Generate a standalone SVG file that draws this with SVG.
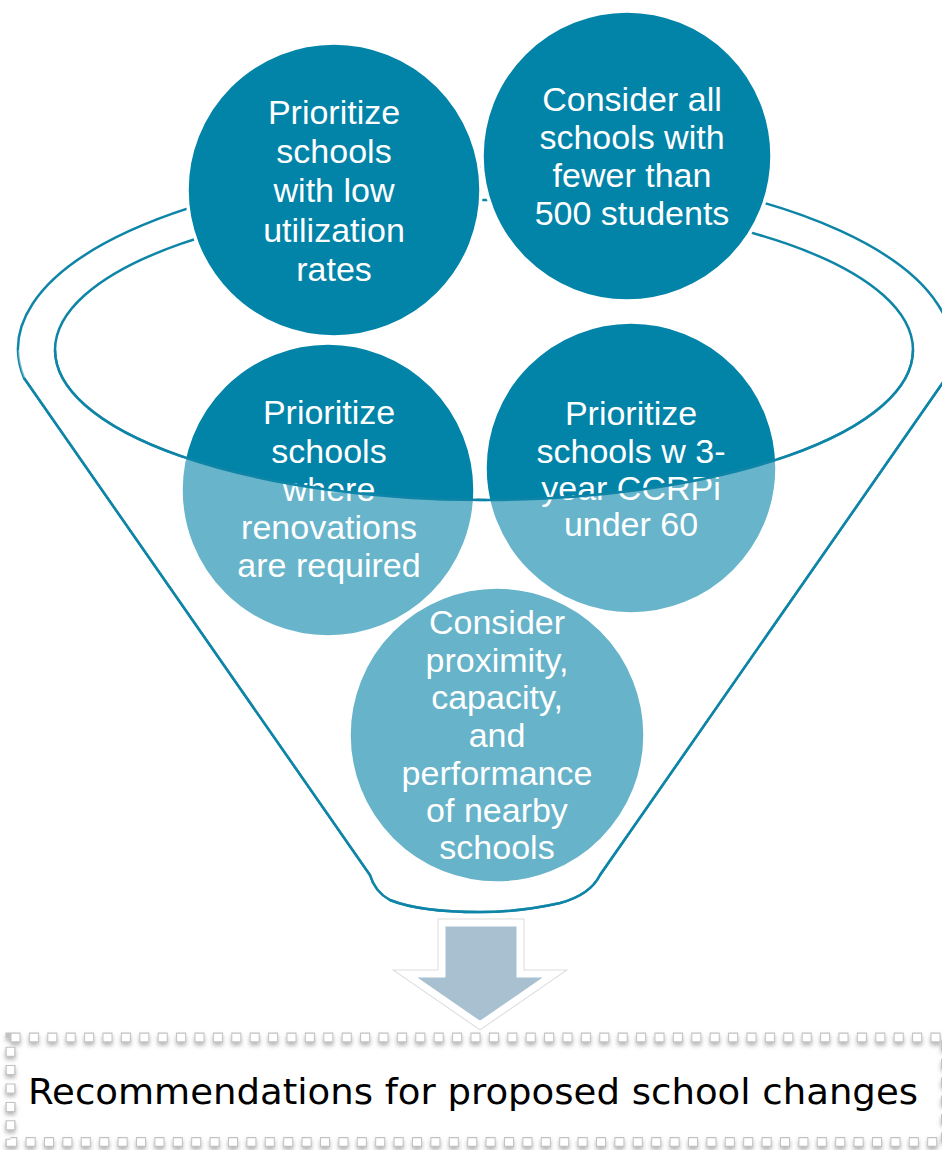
<svg xmlns="http://www.w3.org/2000/svg" width="942" height="1150" viewBox="0 0 942 1150">
<defs>
<style>
.rim{fill:none;stroke:#0e85a7;stroke-width:2.5}
.node{stroke:#fff;stroke-width:3.5}
.dark{fill:#0283a8}
.lbl{font-family:"Liberation Sans",Arial,sans-serif;fill:#fff;text-anchor:middle}
.rec{font-family:"DejaVu Sans",Verdana,sans-serif;font-size:35px;fill:#000}
</style>
<filter id="sh" x="-5%" y="-20%" width="110%" height="140%">
<feDropShadow dx="0" dy="3" stdDeviation="2" flood-color="#777" flood-opacity="0.55"/>
</filter>
</defs>
<rect width="942" height="1150" fill="#fff"/>
<g id="funnel">
<path d="M24,378 A467,182 0 1 1 946,378 L600,875 Q590,895 560,903 Q520,912 480,912 Q420,912 390,900 Q375,892 370,875 Z" fill="#fff" class="rim"/>
<ellipse cx="484" cy="350" rx="429" ry="150" fill="#e2e9ed" class="rim"/>
</g>
<g id="n1">
<circle cx="334" cy="190" r="147" class="node dark"/>
<text class="lbl" font-size="34"><tspan x="334" y="124">Prioritize</tspan><tspan x="334" y="163">schools</tspan><tspan x="334" y="202">with low</tspan><tspan x="334" y="242">utilization</tspan><tspan x="334" y="281">rates</tspan></text>
</g>
<g id="n2">
<circle cx="627" cy="156" r="145" class="node dark"/>
<text class="lbl" font-size="34"><tspan x="632" y="111">Consider all</tspan><tspan x="632" y="149">schools with</tspan><tspan x="632" y="187">fewer than</tspan><tspan x="632" y="225">500 students</tspan></text>
</g>
<g id="n3">
<circle cx="328" cy="490" r="147" class="node dark"/>
<text class="lbl" font-size="34"><tspan x="329" y="424">Prioritize</tspan><tspan x="329" y="463">schools</tspan><tspan x="329" y="501">where</tspan><tspan x="329" y="539">renovations</tspan><tspan x="329" y="577">are required</tspan></text>
</g>
<g id="n4">
<circle cx="631" cy="468" r="146" class="node dark"/>
<text class="lbl" font-size="34"><tspan x="631" y="425">Prioritize</tspan><tspan x="631" y="463">schools w 3-</tspan><tspan x="631" y="500">year CCRPi</tspan><tspan x="631" y="536">under 60</tspan></text>
</g>
<g id="overlay">
<path fill-rule="evenodd" fill="#fff" fill-opacity="0.4" d="M18,350 A467,182 0 0 0 24,378 L370,875 Q375,892 390,900 Q420,912 480,912 Q520,912 560,903 Q590,895 600,875 L946,378 A467,182 0 0 0 952,350 Z M55,350 A429,150 0 0 0 913,350 Z"/>
</g>
<g id="n5">
<circle cx="497" cy="735" r="148" class="node" fill="#67b3c9"/>
<text class="lbl" font-size="34"><tspan x="497" y="634">Consider</tspan><tspan x="497" y="672">proximity,</tspan><tspan x="497" y="709">capacity,</tspan><tspan x="497" y="747">and</tspan><tspan x="497" y="785">performance</tspan><tspan x="497" y="822">of nearby</tspan><tspan x="497" y="859">schools</tspan></text>
</g>
<g id="funnel-lower">
<path class="rim" d="M55,350 A429,150 0 0 0 913,350"/>
<path class="rim" d="M24,378 L370,875 Q375,892 390,900 Q420,912 480,912 Q520,912 560,903 Q590,895 600,875 L946,378"/>
</g>
<g id="connectors">
<path d="M442,923 L520,923 L520,974 L554,974 L480,1025 L406,974 L442,974 Z" fill="#a9c0d0" stroke="#dcdcdc" stroke-width="9" stroke-linejoin="miter"/>
<path d="M442,923 L520,923 L520,974 L554,974 L480,1025 L406,974 L442,974 Z" fill="#a9c0d0" stroke="#fff" stroke-width="7" stroke-linejoin="miter"/>
</g>
<g id="recommendations">
<rect x="10.5" y="1037.5" width="935.5" height="104.5" fill="none" stroke="#c2c2c2" stroke-width="10" stroke-dasharray="10 8.4" filter="url(#sh)"/>
<rect x="10.5" y="1037.5" width="935.5" height="104.5" fill="none" stroke="#fff" stroke-width="7.5" stroke-dasharray="8 10.4" stroke-dashoffset="-1"/>
<text class="rec" x="28" y="1104" textLength="890" lengthAdjust="spacingAndGlyphs">Recommendations for proposed school changes</text>
</g>
</svg>
